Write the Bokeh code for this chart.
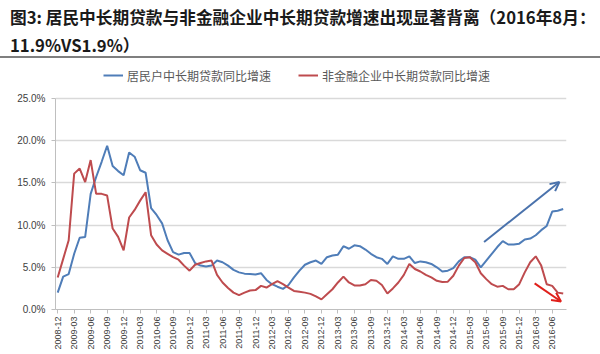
import math
from bokeh.plotting import figure
from bokeh.layouts import column
from bokeh.models import (Range1d, FixedTicker, Arrow, OpenHead, Legend, Div,
                          LegendItem, ColumnDataSource, PrintfTickFormatter)
from bokeh.embed import file_html
from bokeh.resources import INLINE

# ---- data (monthly, 2008-12 .. 2016-08), year-on-year growth in % ----
months = []
y0, m0 = 2008, 12
for i in range(93):
    mm = (m0 - 1 + i) % 12 + 1
    yy = y0 + (m0 - 1 + i) // 12
    months.append(f"{yy}-{mm:02d}")

household = [2.0, 3.9, 4.2, 6.6, 8.5, 8.6, 13.7, 15.7, 17.5, 19.4,
             17.0, 16.4, 15.9, 18.6, 18.1, 16.5, 16.2, 12.0, 11.2, 10.2,
             8.2, 6.8, 6.5, 6.7, 6.7, 5.5, 5.2, 5.1, 5.2, 5.8,
             5.6, 5.2, 4.7, 4.4, 4.25, 4.2, 4.15, 4.3, 3.5, 3.0,
             2.7, 2.45, 2.9, 3.8, 4.6, 5.3, 5.6, 5.8, 5.4, 6.2,
             6.4, 6.5, 7.5, 7.2, 7.6, 7.5, 7.1, 6.6, 6.2, 6.0,
             5.4, 6.3, 6.0, 6.0, 6.3, 5.5, 5.7, 5.6, 5.4, 5.0,
             4.5, 4.6, 4.9, 5.7, 6.2, 6.2, 5.9, 5.0, 5.8, 6.6,
             7.4, 8.1, 7.7, 7.7, 7.8, 8.3, 8.4, 8.8, 9.4, 9.9,
             11.6, 11.7, 11.9]

enterprise = [3.8, 6.0, 8.2, 16.1, 16.7, 15.1, 17.7, 13.7, 13.7, 13.5,
              9.6, 8.6, 7.0, 10.9, 11.8, 12.9, 13.9, 8.8, 7.7, 7.0,
              6.6, 6.2, 5.9, 5.2, 4.6, 5.3, 5.5, 5.7, 5.8, 4.1,
              3.2, 2.55, 2.0, 1.7, 2.0, 2.25, 2.3, 2.8, 2.6, 3.0,
              3.35, 3.0, 2.6, 2.2, 2.1, 2.0, 1.85, 1.55, 1.2, 1.8,
              2.4, 3.2, 3.9, 3.2, 2.85, 2.85, 3.0, 3.5, 3.4, 2.9,
              1.9, 2.5, 3.2, 4.1, 5.4, 4.8, 4.5, 4.1, 3.8, 3.4,
              3.25, 3.3, 4.0, 5.2, 6.1, 6.2, 5.6, 4.3, 3.6, 3.0,
              2.7, 2.8, 2.4, 2.4, 3.0, 4.4, 5.6, 6.3, 5.2, 3.0,
              2.8, 2.0, 1.9]

tick_labels = [months[i] for i in range(0, 91, 3)]
y_ticks = [0, 5, 10, 15, 20, 25]

series_names = ["居民户中长期贷款同比增速", "非金融企业中长期贷款同比增速"]
title_lines = ["图3: 居民中长期贷款与非金融企业中长期贷款增速出现显著背离（2016年8月：",
               "11.9%VS1.9%）"]

# trend arrows (month index, %)
up_arrow = [77.6, 8.0, 91.3, 15.1]
down_arrow = [86.8, 3.1, 91.6, 0.95]

BLUE = "#4F7DB8"
RED = "#BE4B4E"

# ---------------- header (title + rule) ----------------
header_html = (
    '<div style="font-family:\'Noto Sans CJK SC\',sans-serif;font-weight:bold;'
    'font-size:16.7px;line-height:28px;color:#1a1a1a;padding:3px 0 0 10px;'
    'white-space:nowrap;height:56px;overflow:hidden;">'
    f'{title_lines[0]}<br>{title_lines[1]}</div>'
    '<div style="height:2px;width:600px;background-color:#7f7f7f;"></div>'
)
header = Div(text=header_html, width=600, height=62, margin=(0, 0, 0, 0),
             styles={"background-color": "white"})

# ---------------- main chart ----------------
x = list(range(len(months)))
src = ColumnDataSource(dict(x=x, month=months, household=household, enterprise=enterprise))

p = figure(width=600, height=292, output_backend="svg", toolbar_location=None,
           x_range=Range1d(-0.4, 92.6), y_range=Range1d(0, 25 * 247 / 211),
           min_border_left=55, min_border_right=34, min_border_top=0,
           min_border_bottom=45, margin=(0, 0, 0, 0))
p.outline_line_color = None

r1 = p.line("x", "household", source=src, line_color=BLUE, line_width=2)
r2 = p.line("x", "enterprise", source=src, line_color=RED, line_width=2)

p.xaxis.ticker = FixedTicker(ticks=[months.index(t) for t in tick_labels])
p.xaxis.major_label_overrides = {months.index(t): t for t in tick_labels}
p.xaxis.major_label_orientation = math.pi / 2
p.xaxis.major_label_text_font = "Liberation Sans"
p.xaxis.major_label_text_font_size = "9px"
p.xaxis.major_label_text_color = "#404040"
p.xaxis.major_label_standoff = 3
p.xaxis.major_tick_in = 0
p.xaxis.major_tick_out = 4
p.xaxis.minor_tick_line_color = None
p.xaxis.axis_line_color = "#bfbfbf"
p.xaxis.major_tick_line_color = "#bfbfbf"

p.yaxis.ticker = FixedTicker(ticks=y_ticks)
p.yaxis.bounds = (0, 25)
p.yaxis.formatter = PrintfTickFormatter(format="%.1f%%")
p.yaxis.major_label_text_font = "Liberation Sans"
p.yaxis.major_label_text_font_size = "10px"
p.yaxis.major_label_text_color = "#404040"
p.yaxis.major_tick_in = 0
p.yaxis.major_tick_out = 4
p.yaxis.minor_tick_line_color = None
p.yaxis.axis_line_color = "#bfbfbf"
p.yaxis.major_tick_line_color = "#bfbfbf"
p.yaxis.major_label_standoff = 6

p.xgrid.visible = False
p.ygrid.grid_line_color = "#d9d9d9"
p.ygrid.grid_line_width = 1.5

legend = Legend(items=[LegendItem(label=series_names[0], renderers=[r1]),
                       LegendItem(label=series_names[1], renderers=[r2])],
                orientation="horizontal", location=(48, 224),
                border_line_color=None, background_fill_alpha=0,
                padding=0, margin=0, spacing=27, glyph_width=20,
                glyph_height=12, label_standoff=4, label_height=20,
                label_text_font_size="12px", label_text_color="#595959",
                label_text_font="Noto Sans CJK SC")
p.add_layout(legend, "center")

p.add_layout(Arrow(end=OpenHead(size=9, line_color="#4A72AC", line_width=2),
                   x_start=up_arrow[0], y_start=up_arrow[1],
                   x_end=up_arrow[2], y_end=up_arrow[3],
                   line_color="#4A72AC", line_width=2))
p.add_layout(Arrow(end=OpenHead(size=9, line_color="#E0201B", line_width=2),
                   x_start=down_arrow[0], y_start=down_arrow[1],
                   x_end=down_arrow[2], y_end=down_arrow[3],
                   line_color="#E0201B", line_width=2))

layout = column(header, p, spacing=0)
open("out.html", "w").write(file_html(layout, INLINE))
